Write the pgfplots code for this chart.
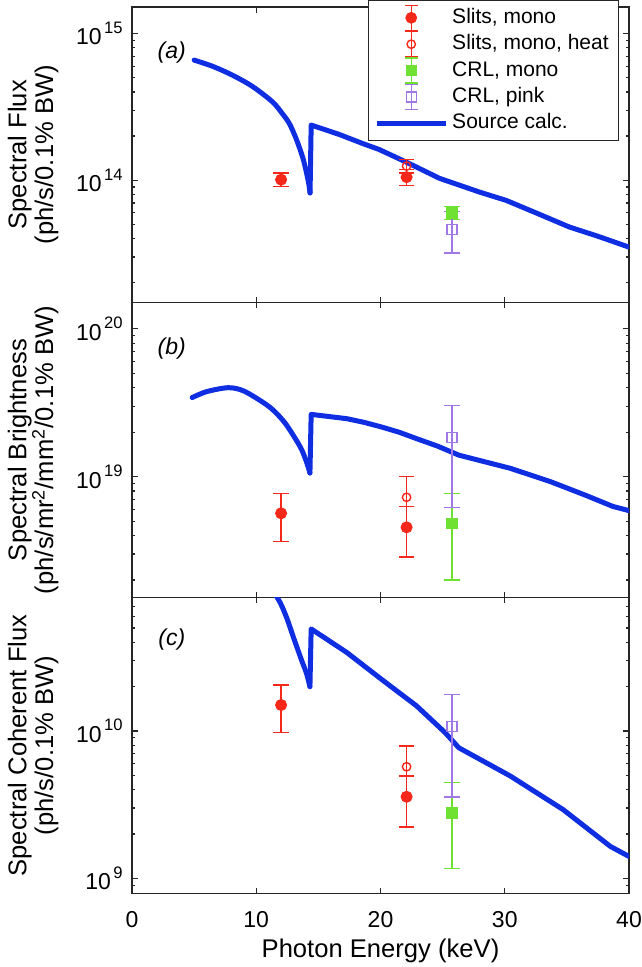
\documentclass[border=0pt]{standalone}
\usepackage{fontspec}
\setmainfont{Liberation Sans}
\usepackage{pgfplots}
\usepackage{pgfplotstable}
\pgfplotsset{compat=1.18}
\definecolor{cred}{RGB}{245,40,25}
\definecolor{cgreen}{RGB}{110,225,50}
\definecolor{cpurp}{RGB}{160,120,230}
\definecolor{cblue}{RGB}{15,45,225}
\newcommand\tk{\fontsize{11.5}{12}\selectfont}
\newcommand\lab{\fontsize{12.8}{13.4}\selectfont}
\newcommand\leg{\fontsize{10.5}{12}\selectfont}
\newcommand\pw[1]{10\hspace{1.2pt}\raisebox{0.5em}{\fontsize{8.3}{9}\selectfont #1}}
\newcommand\ebar[1]{\draw[#1,line width=0.65pt] (17.25pt,-6.25pt)--(17.25pt,6.25pt) (13.9pt,-6.25pt)--(20.6pt,-6.25pt) (13.9pt,6.25pt)--(20.6pt,6.25pt);\path (0pt,0pt) (34.5pt,0pt);}

% ---------------- data ----------------
% source calculation, split at the absorption edge: pre-edge (smooth), post-edge
\pgfplotstableread{
x y
5.0 6.6e14
6.5 5.98e14
8.1 5.2e14
9.7 4.36e14
11.3 3.43e14
12.1 2.85e14
12.66 2.44e14
13.2 1.93e14
13.73 1.44e14
14.05 1.12e14
14.25 9.2e13
14.33 8.2e13
}\preA
\pgfplotstableread{
x y
14.33 8.2e13
14.42 2.38e14
16.7 2.05e14
18.57 1.78e14
19.9 1.62e14
22.07 1.33e14
24.76 1.03e14
27.98 8.3e13
30.1 7.3e13
32.5 6.0e13
35.2 4.8e13
37.5 4.15e13
40 3.5e13
}\postA
\pgfplotstableread{
x y
4.84 3.43e19
6.0 3.76e19
7.74 4.0e19
9.0 3.8e19
10.7 3.12e19
11.5 2.75e19
12.35 2.29e19
13.2 1.78e19
13.66 1.52e19
14.0 1.29e19
14.2 1.15e19
14.32 1.06e19
}\preB
\pgfplotstableread{
x y
14.32 1.06e19
14.42 2.64e19
17.28 2.47e19
18.7 2.33e19
20.08 2.17e19
21.5 2.0e19
22.9 1.81e19
24.6 1.61e19
26.3 1.40e19
30.45 1.14e19
33.7 9.25e18
36.5 7.5e18
38.7 6.3e18
40 5.9e18
}\postB
\pgfplotstableread{
x y
8.0 2.0e11
10.0 1.25e11
11.7 8.0e10
12.4 6.0e10
13.0 4.3e10
13.66 3.0e10
14.05 2.45e10
14.32 2.0e10
}\preC
\pgfplotstableread{
x y
14.32 2.0e10
14.42 4.92e10
17.28 3.41e10
20.08 2.24e10
22.9 1.48e10
25.2 9.75e9
26.3 7.7e9
30.45 4.95e9
34.7 2.93e9
38.5 1.65e9
40 1.41e9
}\postC
% points: x y ep em
\pgfplotstableread{
x y ep em
12.0 1.01e14 0.11e14 0.10e14
22.1 1.05e14 0.13e14 0.13e14
}\aMono
\pgfplotstableread{
x y ep em
22.1 1.25e14 0.13e14 0.13e14
}\aHeat
\pgfplotstableread{
x y ep em
25.75 6.0e13 0.6e13 0.6e13
}\aCrl
\pgfplotstableread{
x y ep em
25.75 4.6e13 1.5e13 1.4e13
}\aPink
\pgfplotstableread{
x y ep em
12.0 5.66e18 2.04e18 2.01e18
22.1 4.55e18 1.73e18 1.69e18
}\bMono
\pgfplotstableread{
x y ep em
22.1 7.26e18 2.74e18 0.98e18
}\bHeat
\pgfplotstableread{
x y ep em
25.75 4.84e18 2.86e18 2.83e18
}\bCrl
\pgfplotstableread{
x y ep em
25.75 1.84e19 1.2e19 1.222e19
}\bPink
\pgfplotstableread{
x y ep em
12.0 1.50e10 0.55e10 0.526e10
22.1 3.58e9 1.36e9 1.35e9
}\cMono
\pgfplotstableread{
x y ep em
22.1 5.72e9 2.18e9 0.78e9
}\cHeat
\pgfplotstableread{
x y ep em
25.75 2.78e9 1.68e9 1.61e9
}\cCrl
\pgfplotstableread{
x y ep em
25.75 1.07e10 0.70e10 0.714e10
}\cPink

\pgfplotsset{
 every axis/.append style={width=248.5pt,height=147.7pt,scale only axis,
   xmin=0,xmax=40,ymode=log,xtick={0,10,20,30,40},
   tick align=inside,major tick length=2.8pt,minor tick length=1.7pt,
   axis line style={black!85,line width=0.65pt},
   tick style={black!85,line width=0.65pt},
   ticklabel style={font=\tk},
   yticklabel style={xshift=-1.2pt},
   xticklabel style={yshift=-5.4pt,inner xsep=0pt},
   ylabel style={align=center,font=\lab,inner sep=0pt,at={(axis description cs:-0.147,0.5)},anchor=south},
   xlabel style={font=\lab,inner sep=0pt,at={(axis description cs:0.5,-0.219)},anchor=base},
   error bars/y dir=both, error bars/y explicit,
   error bars/error bar style={line width=0.7pt},
   error bars/error mark options={rotate=90,mark size=3.9pt,line width=0.7pt},
 },
}

\begin{document}
\begin{tikzpicture}
\begin{axis}[name=a,ymin=1.47e13,ymax=1.52e15,
  ytick={1e14,1e15},yticklabels={\pw{14},\pw{15}},
  minor ytick={2e13,3e13,4e13,5e13,6e13,7e13,8e13,9e13,2e14,3e14,4e14,5e14,6e14,7e14,8e14,9e14},
  xticklabels={},
  ylabel={Spectral Flux\\(ph/s/0.1\% BW)},
  legend cell align=left,
  legend style={at={(axis description cs:0.9805,1.0237)},anchor=north east,
    draw=black!85,line width=0.65pt,fill=white,font=\leg,
    inner xsep=3pt,inner ysep=2pt,row sep=0pt,
    nodes={inner ysep=1.5pt,inner xsep=2pt,text height=7.8pt,text depth=2.4pt}},
]
\addplot[cblue,line width=2.5pt,line join=round,line cap=round,no marks,smooth,tension=0.5,forget plot] table[x=x,y=y]{\preA};
\addplot[cblue,line width=2.5pt,line join=round,line cap=round,no marks,forget plot] table[x=x,y=y]{\postA};
\addplot[cred,only marks,mark=*,mark size=2.8pt,
  legend image code/.code={\ebar{cred}\fill[cred] (17.25pt,0pt) circle (2.6pt);}]
  table[x=x,y=y,y error plus=ep,y error minus=em]{\aMono};
\addlegendentry{Slits, mono}
\addplot[cred,only marks,mark=o,mark size=2.1pt,mark options={line width=0.7pt},
  legend image code/.code={\ebar{cred}\draw[cred,line width=0.7pt] (17.25pt,0pt) circle (2.1pt);}]
  table[x=x,y=y,y error plus=ep,y error minus=em]{\aHeat};
\addlegendentry{Slits, mono, heat}
\addplot[cgreen,only marks,mark=square*,mark size=2.6pt,
  legend image code/.code={\ebar{cgreen}\fill[cgreen] (14.75pt,-2.5pt) rectangle (19.75pt,2.5pt);}]
  table[x=x,y=y,y error plus=ep,y error minus=em]{\aCrl};
\addlegendentry{CRL, mono}
\addplot[cpurp,only marks,mark=square,mark size=2.5pt,mark options={line width=0.7pt},
  legend image code/.code={\ebar{cpurp}\draw[cpurp,line width=0.7pt] (14.75pt,-2.5pt) rectangle (19.75pt,2.5pt);}]
  table[x=x,y=y,y error plus=ep,y error minus=em]{\aPink};
\addlegendentry{CRL, pink}
\addlegendimage{legend image code/.code={\draw[cblue,line width=2.5pt] (0pt,0pt)--(34.5pt,0pt);}}
\addlegendentry{Source calc.}
\node[font=\tk\itshape] at (axis description cs:0.08,0.845) {(a)};
\end{axis}

\begin{axis}[name=b,at={(a.south west)},anchor=north west,
  ymin=1.52e18,ymax=1.51e20,
  ytick={1e19,1e20},yticklabels={\pw{19},\pw{20}},
  minor ytick={2e18,3e18,4e18,5e18,6e18,7e18,8e18,9e18,2e19,3e19,4e19,5e19,6e19,7e19,8e19,9e19},
  xticklabels={},
  ylabel={Spectral Brightness\\(ph/s/mr\textsuperscript{2}/mm\textsuperscript{2}/0.1\% BW)},
]
\addplot[cblue,line width=2.5pt,line join=round,line cap=round,no marks,smooth,tension=0.5] table[x=x,y=y]{\preB};
\addplot[cblue,line width=2.5pt,line join=round,line cap=round,no marks] table[x=x,y=y]{\postB};
\addplot[cred,only marks,mark=*,mark size=2.8pt] table[x=x,y=y,y error plus=ep,y error minus=em]{\bMono};
\addplot[cred,only marks,mark=o,mark size=2.1pt,mark options={line width=0.7pt}] table[x=x,y=y,y error plus=ep,y error minus=em]{\bHeat};
\addplot[cgreen,only marks,mark=square*,mark size=2.6pt] table[x=x,y=y,y error plus=ep,y error minus=em]{\bCrl};
\addplot[cpurp,only marks,mark=square,mark size=2.5pt,mark options={line width=0.7pt}] table[x=x,y=y,y error plus=ep,y error minus=em]{\bPink};
\node[font=\tk\itshape] at (axis description cs:0.08,0.845) {(b)};
\end{axis}

\begin{axis}[name=c,at={(b.south west)},anchor=north west,
  ymin=7.95e8,ymax=8.0e10,
  ytick={1e9,1e10},yticklabels={\pw{9},\pw{10}},
  minor ytick={9e8,2e9,3e9,4e9,5e9,6e9,7e9,8e9,9e9,2e10,3e10,4e10,5e10,6e10,7e10},
  xticklabels={0,10,20,30,40},
  ylabel={Spectral Coherent Flux\\(ph/s/0.1\% BW)},
  xlabel={Photon Energy (keV)},
]
\addplot[cblue,line width=2.5pt,line join=round,line cap=round,no marks,smooth,tension=0.5] table[x=x,y=y]{\preC};
\addplot[cblue,line width=2.5pt,line join=round,line cap=round,no marks] table[x=x,y=y]{\postC};
\addplot[cred,only marks,mark=*,mark size=2.8pt] table[x=x,y=y,y error plus=ep,y error minus=em]{\cMono};
\addplot[cred,only marks,mark=o,mark size=2.1pt,mark options={line width=0.7pt}] table[x=x,y=y,y error plus=ep,y error minus=em]{\cHeat};
\addplot[cgreen,only marks,mark=square*,mark size=2.6pt] table[x=x,y=y,y error plus=ep,y error minus=em]{\cCrl};
\addplot[cpurp,only marks,mark=square,mark size=2.5pt,mark options={line width=0.7pt}] table[x=x,y=y,y error plus=ep,y error minus=em]{\cPink};
\node[font=\tk\itshape] at (axis description cs:0.08,0.86) {(c)};
\end{axis}
\path ([xshift=-66pt]a.north west) ([xshift=5.5pt]a.north east) ([yshift=-36.9pt]c.south west);
\end{tikzpicture}
\end{document}
